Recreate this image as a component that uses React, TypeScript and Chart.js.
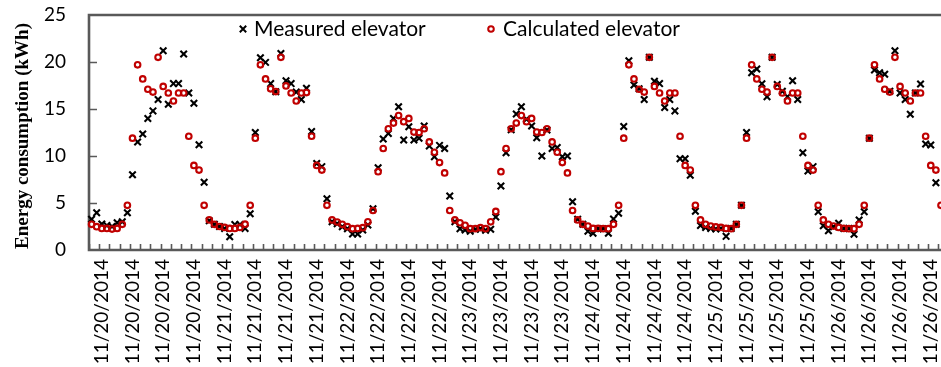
import React, { useEffect, useRef } from "react";
import { Chart, registerables } from "chart.js";

Chart.register(...registerables);

// Hourly energy use, 11/20/2014 00:00 onward (one value per hour)
const measured = [
  3.27, 3.97, 2.77, 2.6, 2.5, 2.9, 3.0, 3.97, 8.0, 11.5, 12.35, 14.0, 14.8, 16.0, 21.2, 15.5, 17.7, 17.7, 20.85, 16.7, 15.6, 11.2, 7.2, 3.1,
  2.75, 2.5, 2.3, 1.42, 2.7, 2.7, 2.3, 3.85, 12.5, 20.45, 19.96, 17.7, 16.84, 20.9, 18.0, 17.7, 16.8, 16.0, 17.2, 12.6, 9.2, 8.87, 5.46, 3.0,
  2.8, 2.48, 2.27, 1.7, 1.7, 2.13, 2.66, 4.4, 8.76, 11.8, 12.4, 14.0, 15.25, 11.7, 13.1, 11.7, 11.9, 13.2, 11.06, 9.93, 11.13, 10.8, 5.74, 3.0,
  2.27, 2.13, 2.0, 2.2, 2.27, 2.1, 2.2, 3.5, 6.82, 10.35, 12.8, 14.47, 15.25, 13.9, 13.2, 11.95, 10.0, 12.77, 10.8, 10.9, 9.93, 10.0, 5.14, 3.26,
  2.73, 2.0, 1.77, 2.27, 2.27, 1.77, 3.3, 3.9, 13.15, 20.14, 17.55, 17.15, 16.0, 20.5, 17.95, 17.7, 15.15, 16.0, 14.8, 9.7, 9.7, 7.95, 4.12, 2.6,
  2.4, 2.3, 2.23, 2.3, 1.45, 2.3, 2.73, 4.77, 12.5, 18.85, 19.25, 17.68, 16.3, 20.5, 17.6, 16.9, 16.3, 18.0, 16.0, 10.35, 8.4, 8.87, 4.08, 2.59,
  2.06, 2.48, 2.84, 2.3, 2.3, 1.67, 3.2, 4.08, 11.9, 19.15, 18.85, 18.7, 16.9, 21.2, 16.7, 16.0, 14.45, 16.7, 17.66, 11.28, 11.17, 7.16,
];

const calculated = [
  2.73, 2.48, 2.3, 2.3, 2.23, 2.3, 2.73, 4.75, 11.9, 19.7, 18.2, 17.1, 16.8, 20.5, 17.4, 16.7, 15.85, 16.7, 16.7, 12.1, 9.0, 8.5, 4.75, 3.2,
  2.73, 2.5, 2.4, 2.3, 2.3, 2.4, 2.75, 4.75, 11.9, 19.7, 18.2, 17.15, 16.85, 20.5, 17.45, 16.7, 15.85, 16.7, 16.75, 12.1, 9.0, 8.5, 4.75, 3.2,
  2.98, 2.73, 2.48, 2.27, 2.3, 2.37, 3.0, 4.2, 8.33, 10.8, 12.9, 13.5, 14.3, 13.65, 14.0, 12.55, 12.5, 12.9, 11.5, 10.4, 9.3, 8.2, 4.2, 3.2,
  2.9, 2.62, 2.27, 2.27, 2.38, 2.27, 3.0, 4.1, 8.33, 10.8, 12.9, 13.5, 14.3, 13.65, 14.0, 12.55, 12.5, 12.9, 11.5, 10.4, 9.3, 8.2, 4.2, 3.2,
  2.73, 2.55, 2.3, 2.3, 2.27, 2.27, 2.73, 4.75, 11.9, 19.7, 18.2, 17.1, 16.8, 20.5, 17.4, 16.7, 15.85, 16.7, 16.7, 12.1, 9.0, 8.5, 4.75, 3.2,
  2.73, 2.55, 2.45, 2.4, 2.3, 2.27, 2.73, 4.75, 11.9, 19.7, 18.2, 17.1, 16.8, 20.5, 17.4, 16.7, 15.85, 16.7, 16.7, 12.1, 9.0, 8.5, 4.75, 3.2,
  2.73, 2.55, 2.4, 2.3, 2.27, 2.27, 2.73, 4.75, 11.9, 19.7, 18.2, 17.1, 16.8, 20.5, 17.4, 16.7, 15.85, 16.7, 16.7, 12.1, 9.0, 8.5, 4.75,
];

const dayLabels = ["11/20/2014", "11/21/2014", "11/22/2014", "11/23/2014", "11/24/2014", "11/25/2014", "11/26/2014"];
const labelHoursInDay = [2, 8, 14, 20];
const xTickLabels: string[] = [];
const xTickHours: number[] = [];
dayLabels.forEach((d, di) => {
  labelHoursInDay.forEach((h) => {
    xTickLabels.push(d);
    xTickHours.push(di * 24 + h);
  });
});
const yTicks = [0, 5, 10, 15, 20, 25];

const seriesNames = ["Measured elevator", "Calculated elevator"];
const AXIS_COLOR = "#595959";
const RED = "#C00000";
const SANS = "Lato, 'Open Sans', sans-serif";

const framePlugin = {
  id: "frame",
  beforeDatasetsDraw(chart: any) {
    const { ctx, chartArea, scales } = chart;
    const { left, right, top, bottom } = chartArea;
    const x = scales.x;
    const y = scales.y;
    ctx.save();
    ctx.strokeStyle = AXIS_COLOR;
    // inward tick marks
    ctx.lineWidth = 1.6;
    ctx.beginPath();
    for (let h = -0.5; h <= x.max + 0.01; h += 2) {
      const px = Math.round(x.getPixelForValue(h)) + 0.5;
      ctx.moveTo(px, bottom);
      ctx.lineTo(px, bottom - 6);
    }
    yTicks.forEach((v) => {
      if (v === 0 || v === 25) return;
      const py = Math.round(y.getPixelForValue(v)) + 0.5;
      ctx.moveTo(left, py);
      ctx.lineTo(left + 8, py);
    });
    ctx.stroke();
    // frame lines
    ctx.lineWidth = 2.6;
    ctx.beginPath();
    ctx.moveTo(left, top);
    ctx.lineTo(right + 2, top);
    ctx.moveTo(left, top - 1.3);
    ctx.lineTo(left, bottom + 1.3);
    ctx.moveTo(left - 1.3, bottom);
    ctx.lineTo(right + 2, bottom);
    ctx.stroke();
    ctx.restore();
  },
  afterDraw(chart: any) {
    const { ctx } = chart;
    ctx.save();
    // legend
    const ly = 29;
    ctx.strokeStyle = "#000";
    ctx.lineWidth = 2;
    ctx.beginPath();
    const cx = 243, r = 3.2;
    ctx.moveTo(cx - r, ly - r);
    ctx.lineTo(cx + r, ly + r);
    ctx.moveTo(cx - r, ly + r);
    ctx.lineTo(cx + r, ly - r);
    ctx.stroke();
    ctx.strokeStyle = RED;
    ctx.beginPath();
    ctx.arc(491, ly, 2.8, 0, Math.PI * 2);
    ctx.stroke();
    ctx.fillStyle = "#000";
    ctx.font = `21px ${SANS}`;
    ctx.textBaseline = "middle";
    ctx.textAlign = "left";
    ctx.fillText(seriesNames[0], 254, ly);
    ctx.fillText(seriesNames[1], 503, ly);
    // y title
    ctx.translate(28, 136);
    ctx.rotate(-Math.PI / 2);
    ctx.font = "bold 19px 'Liberation Serif', 'Times New Roman', serif";
    ctx.textAlign = "center";
    ctx.textBaseline = "alphabetic";
    ctx.fillText("Energy consumption (kWh)", 0, 0);
    ctx.restore();
  },
};

export default function App() {
  const canvasRef = useRef<HTMLCanvasElement | null>(null);

  useEffect(() => {
    document.body.style.margin = "0";
    const canvas = canvasRef.current;
    if (!canvas) return;
    const chart = new Chart(canvas, {
      type: "scatter",
      data: {
        datasets: [
          {
            label: seriesNames[0],
            data: measured.map((v, i) => ({ x: i, y: v })),
            pointStyle: "crossRot",
            pointRadius: 4.6,
            borderColor: "#000",
            backgroundColor: "#000",
            borderWidth: 2.1,
            order: 2,
            clip: false as any,
          },
          {
            label: seriesNames[1],
            data: calculated.map((v, i) => ({ x: i, y: v })),
            pointStyle: "circle",
            pointRadius: 2.8,
            borderColor: RED,
            backgroundColor: "rgba(0,0,0,0)",
            borderWidth: 2.1,
            order: 1,
            clip: false as any,
          },
        ],
      },
      options: {
        animation: false,
        responsive: false,
        devicePixelRatio: 1,
        layout: { autoPadding: false, padding: { top: 15, right: 0, bottom: 0, left: 0 } },
        plugins: { legend: { display: false }, tooltip: { enabled: false } },
        scales: {
          x: {
            type: "linear",
            min: -0.5,
            max: 166.0,
            grid: { display: false, drawTicks: false },
            border: { display: false },
            afterBuildTicks: (s: any) => {
              s.ticks = xTickHours.map((v) => ({ value: v }));
            },
            afterFit: (s: any) => {
              s.height = 117;
              s.paddingLeft = 0;
              s.paddingRight = 0;
            },
            ticks: {
              autoSkip: false,
              minRotation: 90,
              maxRotation: 90,
              padding: 9,
              color: "#000",
              font: { family: SANS, size: 19 },
              callback: (_v: any, i: number) => xTickLabels[i],
            },
          },
          y: {
            min: 0,
            max: 25,
            grid: { display: false, drawTicks: false },
            border: { display: false },
            afterBuildTicks: (s: any) => {
              s.ticks = yTicks.map((v) => ({ value: v }));
            },
            afterFit: (s: any) => {
              s.width = 89;
              s.paddingTop = 0;
              s.paddingBottom = 0;
            },
            ticks: {
              padding: 23,
              color: "#000",
              font: { family: SANS, size: 19 },
            },
          },
        },
      },
      plugins: [framePlugin],
    } as any);
    return () => chart.destroy();
  }, []);

  return (
    <div style={{ width: 941, height: 367 }}>
      <canvas ref={canvasRef} width={941} height={367} style={{ width: 941, height: 367, display: "block" }} />
    </div>
  );
}
